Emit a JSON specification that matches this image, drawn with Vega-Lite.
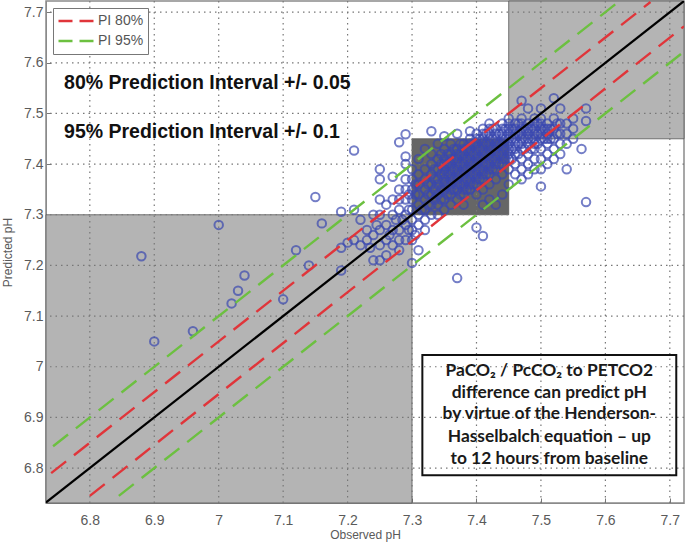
{"$schema":"https://vega.github.io/schema/vega-lite/v6.json","width":638,"height":502,"autosize":"none","padding":{"left":46,"top":1,"right":1,"bottom":40},"background":"white","config":{"view":{"stroke":"#8a8a8a","strokeWidth":1.5}},"encoding":{"x":{"type":"quantitative"}},"layer":[
{"data":{"values":[{"x":6.732,"x2":7.3,"y":6.731,"y2":7.3,"f":"light"},{"x":7.45,"x2":7.722,"y":7.45,"y2":7.722,"f":"light"},{"x":7.3,"x2":7.45,"y":7.3,"y2":7.45,"f":"dark"}]},"mark":{"type":"rect","stroke":"#555","strokeWidth":0.8},"encoding":{"x":{"field":"x","type":"quantitative","scale":{"domain":[6.732,7.722],"nice":false,"zero":false},"axis":{"values":[6.8,6.9,7,7.1,7.2,7.3,7.4,7.5,7.6,7.7],"format":".1~f","title":"Observed pH","grid":false,"tickSize":-5,"tickColor":"#777","domainColor":"#8a8a8a","labelColor":"#5a5a5a","labelFont":"Liberation Sans","labelFontSize":14,"labelPadding":15,"titleFont":"Liberation Sans","titleFontWeight":"normal","titleFontSize":12,"titleColor":"#5a5a5a","titlePadding":2}},"x2":{"field":"x2"},"y":{"field":"y","type":"quantitative","scale":{"domain":[6.731,7.722],"nice":false,"zero":false},"axis":{"values":[6.8,6.9,7,7.1,7.2,7.3,7.4,7.5,7.6,7.7],"format":".1~f","title":"Predicted pH","grid":false,"tickSize":-5,"tickColor":"#777","domainColor":"#8a8a8a","labelColor":"#5a5a5a","labelFont":"Liberation Sans","labelFontSize":14,"labelPadding":8,"titleFont":"Liberation Sans","titleFontWeight":"normal","titleFontSize":12,"titleColor":"#5a5a5a","titlePadding":9}},"y2":{"field":"y2"},"fill":{"field":"f","type":"nominal","scale":{"domain":["light","dark"],"range":["#b4b4b4","#666666"]},"legend":null}}},
{"data":{"values":[{"v":6.8},{"v":6.9},{"v":7},{"v":7.1},{"v":7.2},{"v":7.3},{"v":7.4},{"v":7.5},{"v":7.6},{"v":7.7}]},"mark":{"type":"rule","color":"#777","strokeWidth":1.2,"strokeDash":[1.5,4]},"encoding":{"x":{"field":"v","type":"quantitative"}}},
{"data":{"values":[{"v":6.8},{"v":6.9},{"v":7},{"v":7.1},{"v":7.2},{"v":7.3},{"v":7.4},{"v":7.5},{"v":7.6},{"v":7.7}]},"mark":{"type":"rule","color":"#777","strokeWidth":1.2,"strokeDash":[1.5,4]},"encoding":{"y":{"field":"v","type":"quantitative"}}},
{"data":{"values":[{"x":6.88,"y":7.218},{"x":6.9,"y":7.05},{"x":6.96,"y":7.07},{"x":7,"y":7.28},{"x":7.02,"y":7.125},{"x":7.03,"y":7.15},{"x":7.04,"y":7.18},{"x":7.1,"y":7.133},{"x":7.12,"y":7.23},{"x":7.14,"y":7.2},{"x":7.15,"y":7.335},{"x":7.16,"y":7.283},{"x":7.19,"y":7.306},{"x":7.19,"y":7.19},{"x":7.19,"y":7.235},{"x":7.2,"y":7.245},{"x":7.21,"y":7.427},{"x":7.21,"y":7.31},{"x":7.21,"y":7.25},{"x":7.22,"y":7.24},{"x":7.22,"y":7.29},{"x":7.23,"y":7.25},{"x":7.23,"y":7.27},{"x":7.24,"y":7.3},{"x":7.24,"y":7.21},{"x":7.24,"y":7.26},{"x":7.25,"y":7.39},{"x":7.25,"y":7.37},{"x":7.25,"y":7.33},{"x":7.25,"y":7.21},{"x":7.25,"y":7.24},{"x":7.25,"y":7.27},{"x":7.25,"y":7.3},{"x":7.26,"y":7.22},{"x":7.26,"y":7.25},{"x":7.26,"y":7.28},{"x":7.26,"y":7.32},{"x":7.27,"y":7.375},{"x":7.27,"y":7.24},{"x":7.27,"y":7.27},{"x":7.27,"y":7.3},{"x":7.27,"y":7.33},{"x":7.28,"y":7.443},{"x":7.28,"y":7.35},{"x":7.28,"y":7.33},{"x":7.28,"y":7.31},{"x":7.28,"y":7.27},{"x":7.28,"y":7.25},{"x":7.28,"y":7.23},{"x":7.29,"y":7.459},{"x":7.29,"y":7.415},{"x":7.29,"y":7.4},{"x":7.29,"y":7.37},{"x":7.29,"y":7.35},{"x":7.29,"y":7.33},{"x":7.29,"y":7.3},{"x":7.29,"y":7.28},{"x":7.29,"y":7.25},{"x":7.3,"y":7.205},{"x":7.3,"y":7.25},{"x":7.3,"y":7.27},{"x":7.3,"y":7.29},{"x":7.3,"y":7.31},{"x":7.3,"y":7.33},{"x":7.3,"y":7.35},{"x":7.3,"y":7.37},{"x":7.3,"y":7.39},{"x":7.31,"y":7.23},{"x":7.31,"y":7.28},{"x":7.31,"y":7.3},{"x":7.31,"y":7.32},{"x":7.31,"y":7.34},{"x":7.31,"y":7.36},{"x":7.31,"y":7.38},{"x":7.31,"y":7.41},{"x":7.32,"y":7.27},{"x":7.32,"y":7.29},{"x":7.32,"y":7.31},{"x":7.32,"y":7.33},{"x":7.32,"y":7.35},{"x":7.32,"y":7.37},{"x":7.32,"y":7.39},{"x":7.32,"y":7.43},{"x":7.33,"y":7.465},{"x":7.33,"y":7.3},{"x":7.33,"y":7.32},{"x":7.33,"y":7.34},{"x":7.33,"y":7.36},{"x":7.33,"y":7.38},{"x":7.33,"y":7.4},{"x":7.33,"y":7.42},{"x":7.34,"y":7.3},{"x":7.34,"y":7.32},{"x":7.34,"y":7.34},{"x":7.34,"y":7.37},{"x":7.34,"y":7.39},{"x":7.34,"y":7.41},{"x":7.34,"y":7.44},{"x":7.35,"y":7.31},{"x":7.35,"y":7.33},{"x":7.35,"y":7.35},{"x":7.35,"y":7.37},{"x":7.35,"y":7.39},{"x":7.35,"y":7.41},{"x":7.35,"y":7.43},{"x":7.35,"y":7.455},{"x":7.36,"y":7.32},{"x":7.36,"y":7.34},{"x":7.36,"y":7.36},{"x":7.36,"y":7.38},{"x":7.36,"y":7.4},{"x":7.36,"y":7.42},{"x":7.36,"y":7.44},{"x":7.37,"y":7.175},{"x":7.37,"y":7.33},{"x":7.37,"y":7.35},{"x":7.37,"y":7.37},{"x":7.37,"y":7.39},{"x":7.37,"y":7.41},{"x":7.37,"y":7.43},{"x":7.37,"y":7.46},{"x":7.38,"y":7.32},{"x":7.38,"y":7.34},{"x":7.38,"y":7.36},{"x":7.38,"y":7.38},{"x":7.38,"y":7.4},{"x":7.38,"y":7.42},{"x":7.38,"y":7.44},{"x":7.39,"y":7.35},{"x":7.39,"y":7.37},{"x":7.39,"y":7.39},{"x":7.39,"y":7.41},{"x":7.39,"y":7.43},{"x":7.39,"y":7.45},{"x":7.39,"y":7.465},{"x":7.4,"y":7.275},{"x":7.4,"y":7.34},{"x":7.4,"y":7.36},{"x":7.4,"y":7.38},{"x":7.4,"y":7.4},{"x":7.4,"y":7.42},{"x":7.4,"y":7.44},{"x":7.4,"y":7.46},{"x":7.41,"y":7.258},{"x":7.41,"y":7.32},{"x":7.41,"y":7.35},{"x":7.41,"y":7.37},{"x":7.41,"y":7.39},{"x":7.41,"y":7.41},{"x":7.41,"y":7.43},{"x":7.41,"y":7.45},{"x":7.41,"y":7.47},{"x":7.42,"y":7.33},{"x":7.42,"y":7.36},{"x":7.42,"y":7.38},{"x":7.42,"y":7.4},{"x":7.42,"y":7.42},{"x":7.42,"y":7.44},{"x":7.42,"y":7.46},{"x":7.42,"y":7.48},{"x":7.43,"y":7.32},{"x":7.43,"y":7.37},{"x":7.43,"y":7.39},{"x":7.43,"y":7.41},{"x":7.43,"y":7.43},{"x":7.43,"y":7.45},{"x":7.43,"y":7.47},{"x":7.44,"y":7.34},{"x":7.44,"y":7.38},{"x":7.44,"y":7.4},{"x":7.44,"y":7.42},{"x":7.44,"y":7.44},{"x":7.44,"y":7.46},{"x":7.44,"y":7.48},{"x":7.45,"y":7.36},{"x":7.45,"y":7.39},{"x":7.45,"y":7.41},{"x":7.45,"y":7.43},{"x":7.45,"y":7.45},{"x":7.45,"y":7.47},{"x":7.45,"y":7.49},{"x":7.46,"y":7.38},{"x":7.46,"y":7.4},{"x":7.46,"y":7.42},{"x":7.46,"y":7.44},{"x":7.46,"y":7.46},{"x":7.46,"y":7.48},{"x":7.47,"y":7.525},{"x":7.47,"y":7.37},{"x":7.47,"y":7.39},{"x":7.47,"y":7.41},{"x":7.47,"y":7.43},{"x":7.47,"y":7.45},{"x":7.47,"y":7.47},{"x":7.47,"y":7.49},{"x":7.48,"y":7.38},{"x":7.48,"y":7.4},{"x":7.48,"y":7.42},{"x":7.48,"y":7.44},{"x":7.48,"y":7.46},{"x":7.48,"y":7.48},{"x":7.48,"y":7.51},{"x":7.49,"y":7.39},{"x":7.49,"y":7.41},{"x":7.49,"y":7.43},{"x":7.49,"y":7.45},{"x":7.49,"y":7.47},{"x":7.49,"y":7.49},{"x":7.5,"y":7.356},{"x":7.5,"y":7.39},{"x":7.5,"y":7.41},{"x":7.5,"y":7.43},{"x":7.5,"y":7.45},{"x":7.5,"y":7.47},{"x":7.5,"y":7.49},{"x":7.5,"y":7.51},{"x":7.51,"y":7.4},{"x":7.51,"y":7.42},{"x":7.51,"y":7.44},{"x":7.51,"y":7.46},{"x":7.51,"y":7.48},{"x":7.52,"y":7.53},{"x":7.52,"y":7.41},{"x":7.52,"y":7.43},{"x":7.52,"y":7.45},{"x":7.52,"y":7.47},{"x":7.52,"y":7.49},{"x":7.53,"y":7.42},{"x":7.53,"y":7.44},{"x":7.53,"y":7.46},{"x":7.53,"y":7.48},{"x":7.53,"y":7.51},{"x":7.54,"y":7.39},{"x":7.54,"y":7.44},{"x":7.54,"y":7.46},{"x":7.54,"y":7.48},{"x":7.55,"y":7.45},{"x":7.55,"y":7.47},{"x":7.55,"y":7.49},{"x":7.563,"y":7.43},{"x":7.57,"y":7.325},{"x":7.57,"y":7.51},{"x":7.57,"y":7.485},{"x":7.315,"y":7.31},{"x":7.325,"y":7.32},{"x":7.325,"y":7.34},{"x":7.325,"y":7.36},{"x":7.335,"y":7.33},{"x":7.335,"y":7.35},{"x":7.335,"y":7.37},{"x":7.335,"y":7.39},{"x":7.345,"y":7.33},{"x":7.345,"y":7.35},{"x":7.345,"y":7.38},{"x":7.345,"y":7.4},{"x":7.345,"y":7.42},{"x":7.355,"y":7.34},{"x":7.355,"y":7.36},{"x":7.355,"y":7.38},{"x":7.355,"y":7.4},{"x":7.355,"y":7.42},{"x":7.365,"y":7.35},{"x":7.365,"y":7.37},{"x":7.365,"y":7.39},{"x":7.365,"y":7.41},{"x":7.365,"y":7.43},{"x":7.375,"y":7.34},{"x":7.375,"y":7.36},{"x":7.375,"y":7.38},{"x":7.375,"y":7.4},{"x":7.375,"y":7.42},{"x":7.375,"y":7.44},{"x":7.385,"y":7.35},{"x":7.385,"y":7.37},{"x":7.385,"y":7.39},{"x":7.385,"y":7.41},{"x":7.385,"y":7.43},{"x":7.395,"y":7.36},{"x":7.395,"y":7.38},{"x":7.395,"y":7.4},{"x":7.395,"y":7.42},{"x":7.395,"y":7.44},{"x":7.405,"y":7.37},{"x":7.405,"y":7.39},{"x":7.405,"y":7.41},{"x":7.405,"y":7.43},{"x":7.405,"y":7.45},{"x":7.415,"y":7.38},{"x":7.415,"y":7.4},{"x":7.415,"y":7.42},{"x":7.415,"y":7.44},{"x":7.415,"y":7.46},{"x":7.425,"y":7.39},{"x":7.425,"y":7.41},{"x":7.425,"y":7.43},{"x":7.425,"y":7.45},{"x":7.425,"y":7.47},{"x":7.435,"y":7.4},{"x":7.435,"y":7.42},{"x":7.435,"y":7.44},{"x":7.435,"y":7.46},{"x":7.445,"y":7.41},{"x":7.445,"y":7.43},{"x":7.445,"y":7.45},{"x":7.445,"y":7.47},{"x":7.455,"y":7.41},{"x":7.455,"y":7.43},{"x":7.455,"y":7.45},{"x":7.455,"y":7.47},{"x":7.465,"y":7.42},{"x":7.465,"y":7.44},{"x":7.465,"y":7.46},{"x":7.465,"y":7.48},{"x":7.475,"y":7.43},{"x":7.475,"y":7.45},{"x":7.475,"y":7.47},{"x":7.485,"y":7.43},{"x":7.485,"y":7.45},{"x":7.485,"y":7.47},{"x":7.495,"y":7.44},{"x":7.495,"y":7.46},{"x":7.495,"y":7.48},{"x":7.505,"y":7.45},{"x":7.505,"y":7.47},{"x":7.515,"y":7.45},{"x":7.515,"y":7.47},{"x":7.525,"y":7.46},{"x":7.525,"y":7.48},{"x":7.235,"y":7.235},{"x":7.245,"y":7.28},{"x":7.265,"y":7.26},{"x":7.275,"y":7.29},{"x":7.285,"y":7.29},{"x":7.295,"y":7.31},{"x":7.295,"y":7.27},{"x":7.295,"y":7.34},{"x":7.305,"y":7.26},{"x":7.305,"y":7.34},{"x":7.305,"y":7.36},{"x":7.34,"y":7.36},{"x":7.35,"y":7.36},{"x":7.35,"y":7.38},{"x":7.35,"y":7.4},{"x":7.36,"y":7.35},{"x":7.36,"y":7.37},{"x":7.36,"y":7.39},{"x":7.36,"y":7.41},{"x":7.37,"y":7.36},{"x":7.37,"y":7.38},{"x":7.37,"y":7.4},{"x":7.37,"y":7.42},{"x":7.38,"y":7.35},{"x":7.38,"y":7.37},{"x":7.38,"y":7.39},{"x":7.38,"y":7.41},{"x":7.38,"y":7.43},{"x":7.39,"y":7.36},{"x":7.39,"y":7.38},{"x":7.39,"y":7.4},{"x":7.39,"y":7.42},{"x":7.39,"y":7.44},{"x":7.4,"y":7.37},{"x":7.4,"y":7.39},{"x":7.4,"y":7.41},{"x":7.4,"y":7.43},{"x":7.4,"y":7.45},{"x":7.41,"y":7.38},{"x":7.41,"y":7.4},{"x":7.41,"y":7.42},{"x":7.41,"y":7.44},{"x":7.41,"y":7.46},{"x":7.42,"y":7.39},{"x":7.42,"y":7.41},{"x":7.42,"y":7.43},{"x":7.42,"y":7.45},{"x":7.42,"y":7.47},{"x":7.43,"y":7.4},{"x":7.43,"y":7.42},{"x":7.43,"y":7.44},{"x":7.43,"y":7.46},{"x":7.44,"y":7.41},{"x":7.44,"y":7.43},{"x":7.44,"y":7.45},{"x":7.44,"y":7.47},{"x":7.45,"y":7.42},{"x":7.45,"y":7.44},{"x":7.45,"y":7.46},{"x":7.45,"y":7.48},{"x":7.46,"y":7.43},{"x":7.46,"y":7.45},{"x":7.46,"y":7.47},{"x":7.47,"y":7.44},{"x":7.47,"y":7.46},{"x":7.47,"y":7.48},{"x":7.48,"y":7.45},{"x":7.48,"y":7.47},{"x":7.49,"y":7.44},{"x":7.49,"y":7.46},{"x":7.49,"y":7.48},{"x":7.5,"y":7.46},{"x":7.5,"y":7.48},{"x":7.51,"y":7.47},{"x":7.51,"y":7.45}]},"mark":{"type":"point","shape":"circle","filled":false,"color":"#3a48b0","strokeWidth":2,"size":72},"encoding":{"x":{"field":"x","type":"quantitative"},"y":{"field":"y","type":"quantitative"}}},
{"data":{"values":[{"s":"a","k":"PI 80%","x":6.74,"y":6.79},{"s":"a","k":"PI 80%","x":7.67,"y":7.72},{"s":"b","k":"PI 80%","x":6.8,"y":6.745},{"s":"b","k":"PI 80%","x":7.722,"y":7.672},{"s":"c","k":"PI 95%","x":6.743,"y":6.843},{"s":"c","k":"PI 95%","x":7.622,"y":7.722},{"s":"d","k":"PI 95%","x":6.845,"y":6.745},{"s":"d","k":"PI 95%","x":7.722,"y":7.622}]},"mark":{"type":"line","strokeWidth":2.4,"strokeDash":[19,10],"clip":true},"encoding":{"x":{"field":"x","type":"quantitative"},"y":{"field":"y","type":"quantitative"},"detail":{"field":"s"},"color":{"field":"k","type":"nominal","scale":{"domain":["PI 80%","PI 95%"],"range":["#e0353a","#6cc040"]},"legend":{"orient":"none","legendX":7,"legendY":7,"title":null,"symbolType":"stroke","symbolDash":[14,7],"symbolSize":1225,"symbolStrokeWidth":2.4,"labelFont":"Liberation Sans","labelFontSize":14,"labelColor":"#555","fillColor":"white","strokeColor":"#777","padding":4,"rowPadding":2,"clipHeight":18,"labelOffset":3}}}},
{"data":{"values":[{"x":6.732,"y":6.732},{"x":7.722,"y":7.722}]},"mark":{"type":"line","color":"#000","strokeWidth":2.2,"clip":true},"encoding":{"x":{"field":"x","type":"quantitative"},"y":{"field":"y","type":"quantitative"}}},
{"data":{"values":[{"x":6.76,"y":7.56,"t":"80% Prediction  Interval  +/-  0.05"},{"x":6.76,"y":7.463,"t":"95% Prediction  Interval  +/-  0.1"}]},"mark":{"type":"text","align":"left","baseline":"middle","font":"Liberation Sans","fontWeight":"bold","fontSize":19.5,"color":"#111"},"encoding":{"x":{"field":"x","type":"quantitative"},"y":{"field":"y","type":"quantitative"},"text":{"field":"t"}}},
{"data":{"values":[{"x":7.316,"x2":7.71,"y":6.786,"y2":7.023}]},"mark":{"type":"rect","fillOpacity":0,"stroke":"#111","strokeWidth":2},"encoding":{"x":{"field":"x","type":"quantitative"},"x2":{"field":"x2"},"y":{"field":"y","type":"quantitative"},"y2":{"field":"y2"}}},
{"data":{"values":[{"x":7.513,"y":6.991,"t":"PaCO₂ / PcCO₂ to PETCO2"},{"x":7.513,"y":6.949,"t":"difference can predict pH"},{"x":7.513,"y":6.906,"t":"by virtue of the Henderson-"},{"x":7.513,"y":6.861,"t":"Hasselbalch equation – up"},{"x":7.513,"y":6.818,"t":"to 12 hours from baseline"}]},"mark":{"type":"text","align":"center","baseline":"middle","font":"Lato","fontWeight":"bold","fontSize":17.4,"color":"#1a1a1a"},"encoding":{"x":{"field":"x","type":"quantitative"},"y":{"field":"y","type":"quantitative"},"text":{"field":"t"}}}
]}
